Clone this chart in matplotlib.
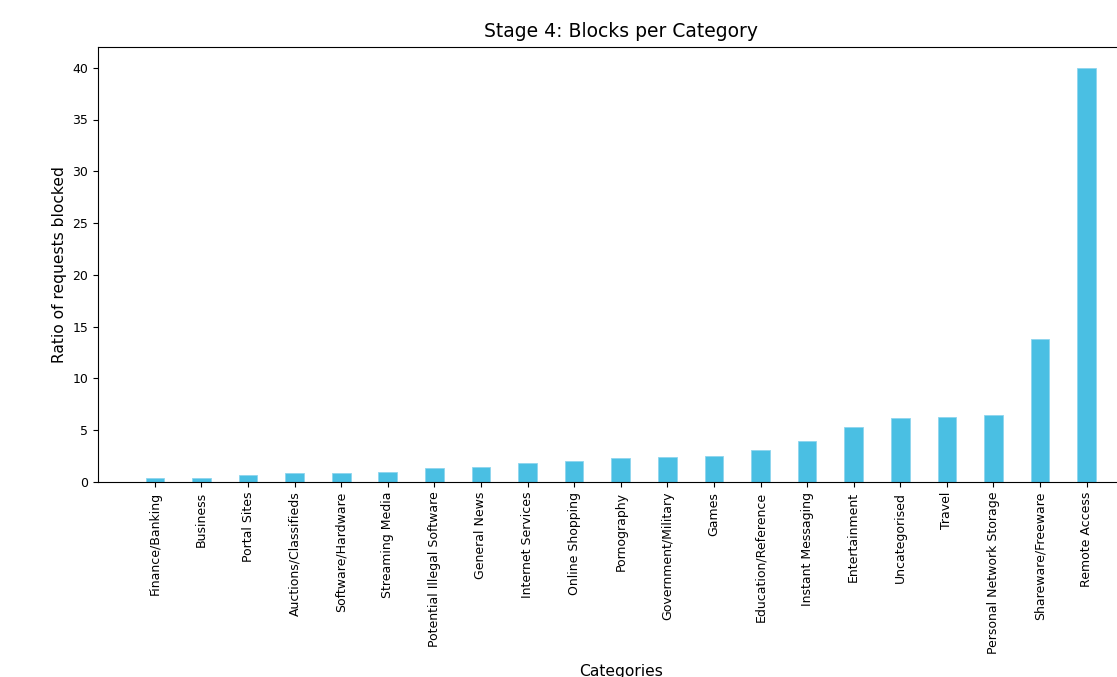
import matplotlib
matplotlib.use("Agg")
import matplotlib.pyplot as plt

categories = ["Finance/Banking", "Business", "Portal Sites", "Auctions/Classifieds",
              "Software/Hardware", "Streaming Media", "Potential Illegal Software",
              "General News", "Internet Services", "Online Shopping", "Pornography",
              "Government/Military", "Games", "Education/Reference", "Instant Messaging",
              "Entertainment", "Uncategorised", "Travel", "Personal Network Storage",
              "Shareware/Freeware", "Remote Access"]
ratios = [0.36, 0.35, 0.68, 0.84, 0.90, 1.0, 1.38, 1.45, 1.84, 2.0, 2.35, 2.44, 2.54,
          3.12, 3.99, 5.34, 6.21, 6.31, 6.44, 13.85, 40.0]

W, H = 1117, 677
fig = plt.figure(figsize=(W / 100, H / 100), dpi=100)
ax = fig.add_axes([98 / W, (H - 482) / H, (1143.5 - 98) / W, (482 - 47) / H])
x = list(range(len(categories)))
ax.bar(x, ratios, width=0.4, color="#4ABFE3", edgecolor="#8ED5EE", linewidth=0.6)
ax.set_xticks(x)
ax.set_xticklabels(categories, rotation=90)
ax.tick_params(axis="both", labelsize=9)
ax.set_title("Stage 4: Blocks per Category", fontsize=13.5, pad=7.5)
ax.set_ylabel("Ratio of requests blocked", fontsize=11.2)
ax.set_xlabel("Categories", fontsize=11.2, labelpad=7)
ax.spines["right"].set_visible(False)
fig.savefig("out.png", dpi=100)
